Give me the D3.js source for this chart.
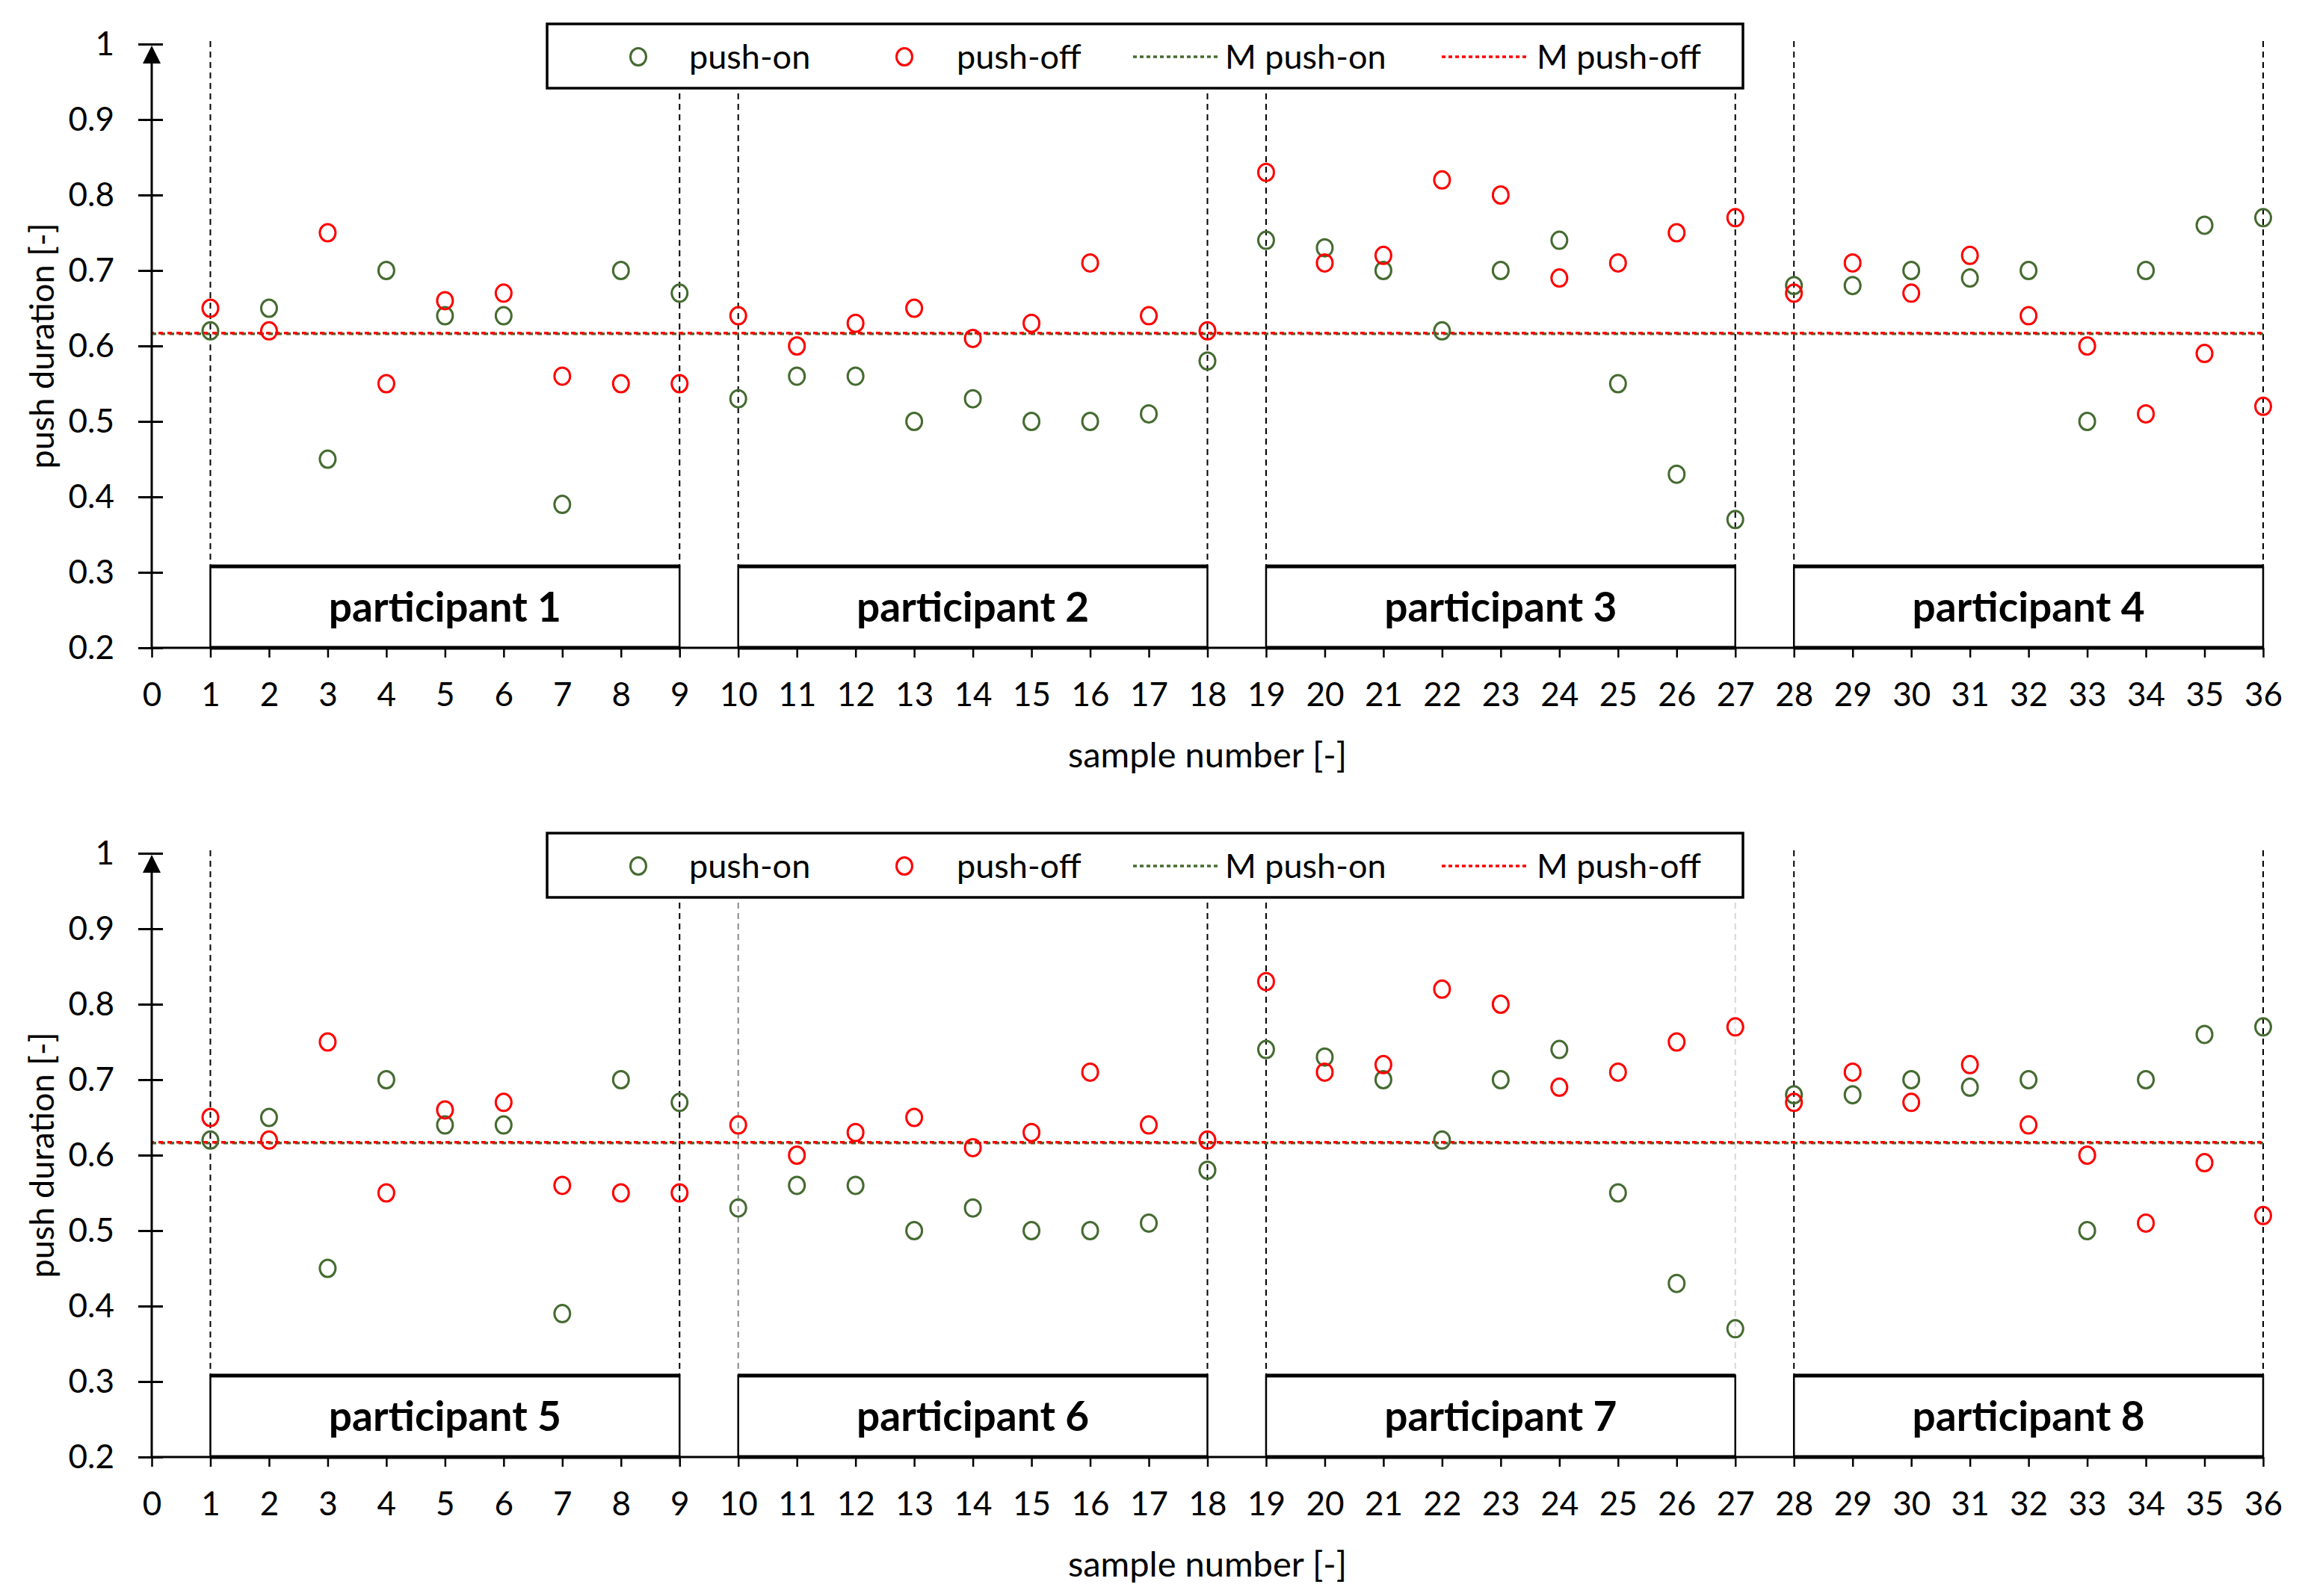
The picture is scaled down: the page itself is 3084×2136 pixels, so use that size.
<!DOCTYPE html>
<html>
<head>
<meta charset="utf-8">
<script src="https://cdn.jsdelivr.net/npm/d3@7"></script>
<style>
  body { margin: 0; background: #fff; }
  text { font-family: Lato, "Open Sans", sans-serif; fill: #000; }
</style>
</head>
<body>
<div id="chart-div"></div>
<script>
// sample numbers on the x axis
const sampleNumbers = [1, 2, 3, 4, 5, 6, 7, 8, 9, 10, 11, 12, 13, 14, 15, 16, 17, 18,
    19, 20, 21, 22, 23, 24, 25, 26, 27, 28, 29, 30, 31, 32, 33, 34, 35, 36];
const pushOn = [0.62, 0.65, 0.45, 0.70, 0.64, 0.64, 0.39, 0.70, 0.67,
    0.53, 0.56, 0.56, 0.50, 0.53, 0.50, 0.50, 0.51, 0.58,
    0.74, 0.73, 0.70, 0.62, 0.70, 0.74, 0.55, 0.43, 0.37,
    0.68, 0.68, 0.70, 0.69, 0.70, 0.50, 0.70, 0.76, 0.77];
const pushOff = [0.65, 0.62, 0.75, 0.55, 0.66, 0.67, 0.56, 0.55, 0.55,
    0.64, 0.60, 0.63, 0.65, 0.61, 0.63, 0.71, 0.64, 0.62,
    0.83, 0.71, 0.72, 0.82, 0.80, 0.69, 0.71, 0.75, 0.77,
    0.67, 0.71, 0.67, 0.72, 0.64, 0.60, 0.51, 0.59, 0.52];
const meanPushOn = 0.616;
const meanPushOff = 0.617;

const xTickValues = [0, 1, 2, 3, 4, 5, 6, 7, 8, 9, 10, 11, 12, 13, 14, 15, 16, 17, 18,
    19, 20, 21, 22, 23, 24, 25, 26, 27, 28, 29, 30, 31, 32, 33, 34, 35, 36];
const yTickValues = [0.2, 0.3, 0.4, 0.5, 0.6, 0.7, 0.8, 0.9, 1];

// first and last sample of each participant
const participantStart = [1, 10, 19, 28];
const participantEnd = [9, 18, 27, 36];
const participantsTop = ["participant 1", "participant 2", "participant 3", "participant 4"];
const participantsBottom = ["participant 5", "participant 6", "participant 7", "participant 8"];
const boxTopValue = 0.308;

const legendLabels = ["push-on", "push-off", "M push-on", "M push-off"];

const WIDTH = 3084;
const HEIGHT = 2136;
const PLOT_LEFT = 203;
const PLOT_RIGHT = 3028;
const PLOT_HEIGHT = 808;
const GREEN = "#456b30";
const RED = "#ff0000";

const svg = d3.select("#chart-div")
    .append("svg")
    .attr("width", WIDTH)
    .attr("height", HEIGHT);

svg.append("rect").attr("width", WIDTH).attr("height", HEIGHT).attr("fill", "#fff");

const xScale = d3.scaleLinear()
    .domain([0, 36])
    .range([PLOT_LEFT, PLOT_RIGHT]);

drawPanel(59, participantsTop, {});
// in the lower panel a couple of the divider lines are printed lighter
drawPanel(1142, participantsBottom, { 10: "#8a8a8a", 27: "#d8d8d8" });

function drawPanel(top, names, dividerColors) {
    let g = svg.append("g");
    let yScale = d3.scaleLinear()
        .domain([0.2, 1])
        .range([top + PLOT_HEIGHT, top]);

    // dashed separators between participants
    let dividers = participantStart.concat(participantEnd);
    g.selectAll(".divider")
        .data(dividers)
        .enter()
        .append("line")
        .attr("x1", d => xScale(d))
        .attr("x2", d => xScale(d))
        .attr("y1", yScale(1) - 4)
        .attr("y2", yScale(boxTopValue))
        .attr("stroke", d => dividerColors[d] || "#000")
        .attr("stroke-width", 2)
        .attr("stroke-dasharray", "8,6");

    // participant boxes
    let boxes = g.selectAll(".pbox")
        .data(names)
        .enter()
        .append("g");
    boxes.append("rect")
        .attr("x", (d, i) => xScale(participantStart[i]))
        .attr("y", yScale(boxTopValue))
        .attr("width", (d, i) => xScale(participantEnd[i]) - xScale(participantStart[i]))
        .attr("height", yScale(0.2) - yScale(boxTopValue))
        .attr("fill", "#fff")
        .attr("stroke", "#000")
        .attr("stroke-width", 2.5);
    boxes.append("line")
        .attr("x1", (d, i) => xScale(participantStart[i]))
        .attr("x2", (d, i) => xScale(participantEnd[i]))
        .attr("y1", yScale(boxTopValue))
        .attr("y2", yScale(boxTopValue))
        .attr("stroke", "#000")
        .attr("stroke-width", 5);
    boxes.append("line")
        .attr("x1", (d, i) => xScale(participantStart[i]))
        .attr("x2", (d, i) => xScale(participantEnd[i]))
        .attr("y1", yScale(0.2))
        .attr("y2", yScale(0.2))
        .attr("stroke", "#000")
        .attr("stroke-width", 5);
    boxes.append("text")
        .attr("x", (d, i) => xScale((participantStart[i] + participantEnd[i]) / 2))
        .attr("y", (yScale(boxTopValue) + yScale(0.2)) / 2)
        .attr("dy", "0.36em")
        .attr("text-anchor", "middle")
        .style("font-size", "55px")
        .style("font-weight", "bold")
        .text(d => d);

    // mean lines (green under red, offset dashes so both show)
    g.append("line")
        .attr("x1", xScale(0)).attr("x2", xScale(36))
        .attr("y1", yScale(meanPushOn)).attr("y2", yScale(meanPushOn))
        .attr("stroke", GREEN).attr("stroke-width", 3.5)
        .attr("stroke-dasharray", "6,6");
    g.append("line")
        .attr("x1", xScale(0)).attr("x2", xScale(36))
        .attr("y1", yScale(meanPushOff)).attr("y2", yScale(meanPushOff))
        .attr("stroke", RED).attr("stroke-width", 3.5)
        .attr("stroke-dasharray", "6,6")
        .attr("stroke-dashoffset", 3);

    // markers
    g.selectAll(".on")
        .data(sampleNumbers)
        .enter()
        .append("ellipse")
        .attr("cx", d => xScale(d))
        .attr("cy", (d, i) => yScale(pushOn[i]))
        .attr("rx", 10.5)
        .attr("ry", 11.5)
        .attr("fill", "none")
        .attr("stroke", GREEN)
        .attr("stroke-width", 3);
    g.selectAll(".off")
        .data(sampleNumbers)
        .enter()
        .append("ellipse")
        .attr("cx", d => xScale(d))
        .attr("cy", (d, i) => yScale(pushOff[i]))
        .attr("rx", 10.5)
        .attr("ry", 11.5)
        .attr("fill", "none")
        .attr("stroke", RED)
        .attr("stroke-width", 3);

    // x axis
    let xAxis = g.append("g")
        .attr("transform", "translate(0," + yScale(0.2) + ")")
        .call(d3.axisBottom(xScale)
            .tickValues(xTickValues)
            .tickSizeInner(13)
            .tickSizeOuter(0)
            .tickPadding(34));
    xAxis.select(".domain").remove();
    xAxis.selectAll("line").attr("stroke", "#000").attr("stroke-width", 2.5);
    xAxis.selectAll("text").style("font-size", "44px").attr("font-family", null);
    g.append("line")
        .attr("x1", xScale(0)).attr("x2", xScale(36))
        .attr("y1", yScale(0.2)).attr("y2", yScale(0.2))
        .attr("stroke", "#000").attr("stroke-width", 3);

    // y axis with crossing ticks
    let yAxis = g.append("g")
        .attr("transform", "translate(" + PLOT_LEFT + ",0)")
        .call(d3.axisLeft(yScale)
            .tickValues(yTickValues)
            .tickFormat(d3.format("~g"))
            .tickSizeInner(18)
            .tickSizeOuter(0)
            .tickPadding(32));
    yAxis.select(".domain").remove();
    yAxis.selectAll(".tick line").attr("x2", -18).attr("x1", 15)
        .attr("stroke", "#000").attr("stroke-width", 3);
    yAxis.selectAll("text").style("font-size", "44px").attr("font-family", null);
    g.append("line")
        .attr("x1", PLOT_LEFT).attr("x2", PLOT_LEFT)
        .attr("y1", yScale(0.2)).attr("y2", yScale(1) + 20)
        .attr("stroke", "#000").attr("stroke-width", 3);
    g.append("path")
        .attr("d", "M" + PLOT_LEFT + "," + (yScale(1) + 2) +
            " L" + (PLOT_LEFT + 12) + "," + (yScale(1) + 26) +
            " L" + (PLOT_LEFT - 12) + "," + (yScale(1) + 26) + " Z")
        .attr("fill", "#000");

    // axis titles
    g.append("text")
        .attr("x", (PLOT_LEFT + PLOT_RIGHT) / 2)
        .attr("y", top + 951)
        .attr("dy", "0.36em")
        .attr("text-anchor", "middle")
        .style("font-size", "47px")
        .text("sample number [-]");
    g.append("text")
        .attr("transform", "translate(56," + (top + PLOT_HEIGHT / 2) + ")rotate(-90)")
        .attr("dy", "0.36em")
        .attr("text-anchor", "middle")
        .style("font-size", "45px")
        .text("push duration [-]");

    // legend
    let legendTop = top - 27;
    g.append("rect")
        .attr("x", 732).attr("y", legendTop)
        .attr("width", 1600).attr("height", 86)
        .attr("fill", "#fff")
        .attr("stroke", "#000")
        .attr("stroke-width", 3.5);
    let ly = legendTop + 44;
    g.append("ellipse").attr("cx", 854).attr("cy", ly).attr("rx", 10.5).attr("ry", 11.5)
        .attr("fill", "none").attr("stroke", GREEN).attr("stroke-width", 3);
    g.append("ellipse").attr("cx", 1210).attr("cy", ly).attr("rx", 10.5).attr("ry", 11.5)
        .attr("fill", "none").attr("stroke", RED).attr("stroke-width", 3);
    g.append("line").attr("x1", 1516).attr("x2", 1629).attr("y1", ly).attr("y2", ly)
        .attr("stroke", GREEN).attr("stroke-width", 3.5).attr("stroke-dasharray", "5,4");
    g.append("line").attr("x1", 1929).attr("x2", 2042).attr("y1", ly).attr("y2", ly)
        .attr("stroke", RED).attr("stroke-width", 3.5).attr("stroke-dasharray", "5,4");
    let textX = [922, 1280, 1639, 2056];
    g.selectAll(".legend-text")
        .data(legendLabels)
        .enter()
        .append("text")
        .attr("x", (d, i) => textX[i])
        .attr("y", ly)
        .attr("dy", "0.36em")
        .style("font-size", "45px")
        .text(d => d);
}
</script>
</body>
</html>
